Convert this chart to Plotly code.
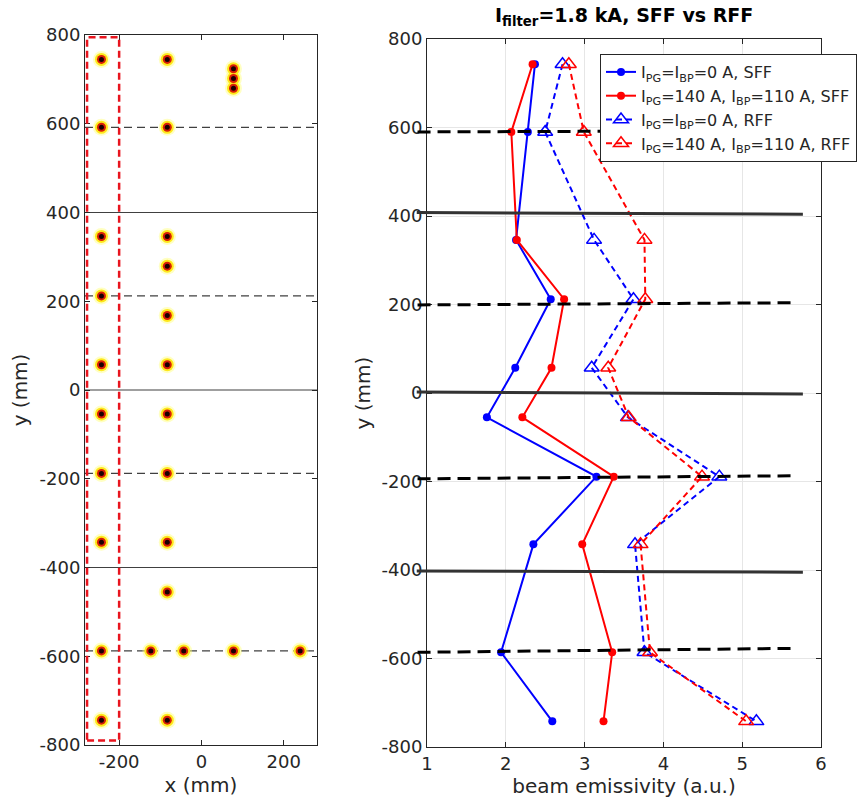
import plotly.graph_objects as go

# ---------------- data ----------------
# left panel: lines of sight positions (mm)
los_x = [-243, -83, 78, 78, 78,
         -243, -83,
         -243, -83, -83, -243, -83,
         -243, -83,
         -243, -83, -243, -83, -243, -83, -83,
         -243, -123, -43, 78, 240,
         -243, -83]
los_y = [745, 745, 724, 702, 680,
         592, 592,
         346, 346, 279, 212, 168,
         57, 57,
         -54, -54, -188, -188, -343, -343, -455,
         -588, -588, -588, -588, -588,
         -744, -744]
left_solid_y = [400, 0, -400]
left_dash_y = [592, 212, -188, -588]
box_x = [-278, -200]
box_y = [-790, 795]

# right panel: emissivity profiles
y_pos = [743, 590, 346, 212, 57, -55, -189, -342, -586, -742]
blue_sff = [2.37, 2.28, 2.13, 2.57, 2.12, 1.76, 3.15, 2.35, 1.94, 2.59]
red_sff = [2.34, 2.07, 2.14, 2.74, 2.58, 2.21, 3.37, 2.97, 3.35, 3.24]
blue_rff = [2.72, 2.50, 3.12, 3.62, 3.09, 3.55, 4.71, 3.64, 3.76, 5.18]
red_rff = [2.80, 2.99, 3.76, 3.77, 3.30, 3.56, 4.49, 3.71, 3.83, 5.05]
names = ["I<sub>PG</sub>=I<sub>BP</sub>=0 A, SFF",
         "I<sub>PG</sub>=140 A, I<sub>BP</sub>=110 A, SFF",
         "I<sub>PG</sub>=I<sub>BP</sub>=0 A, RFF",
         "I<sub>PG</sub>=140 A, I<sub>BP</sub>=110 A, RFF"]
# separator lines on right panel (y at left end, y at right end)
right_solid = [(408, 404), (2, -2), (-402, -405)]
right_dash = [(590, 593), (199, 204), (-194, -187), (-586, -577)]

# tick labels
y_ticks = [-800, -600, -400, -200, 0, 200, 400, 600, 800]
y_ticktext = ["-800", "-600", "-400", "-200", "0", "200", "400", "600", "800"]
lx_ticks = [-200, 0, 200]
lx_ticktext = ["-200", "0", "200"]
rx_ticks = [1, 2, 3, 4, 5, 6]
rx_ticktext = ["1", "2", "3", "4", "5", "6"]

# ---------------- layout geometry ----------------
W, H = 861, 802
L_dom_x = [85 / W, 317 / W]
L_dom_y = [1 - 745 / H, 1 - 35 / H]
R_dom_x = [427 / W, 821 / W]
R_dom_y = [1 - 747 / H, 1 - 39 / H]
R_xrange = [1, 6]

def rx_to_paper(v):
    return R_dom_x[0] + (v - R_xrange[0]) / (R_xrange[1] - R_xrange[0]) * (R_dom_x[1] - R_dom_x[0])

FONT = "DejaVu Sans"
TXT = "#262626"
TICK_SIZE = 18
TITLE_SIZE = 20

fig = go.Figure()

# left panel dots: layered glow
fig.add_trace(go.Scatter(x=los_x, y=los_y, mode="markers", xaxis="x", yaxis="y",
                         marker=dict(size=17, color="rgba(255,255,120,0.45)", line_width=0),
                         showlegend=False, hoverinfo="skip"))
fig.add_trace(go.Scatter(x=los_x, y=los_y, mode="markers", xaxis="x", yaxis="y",
                         marker=dict(size=13, color="#ffe81a", line_width=0),
                         showlegend=False, hoverinfo="skip"))
fig.add_trace(go.Scatter(x=los_x, y=los_y, mode="markers", xaxis="x", yaxis="y",
                         marker=dict(size=9, color="#d81e05", line_width=0),
                         showlegend=False, hoverinfo="skip"))
fig.add_trace(go.Scatter(x=los_x, y=los_y, mode="markers", xaxis="x", yaxis="y",
                         marker=dict(size=5, color="#1a0000", line_width=0),
                         showlegend=False, hoverinfo="skip"))

# right panel series
fig.add_trace(go.Scatter(x=blue_sff, y=y_pos, mode="lines+markers", name=names[0],
                         xaxis="x2", yaxis="y2",
                         line=dict(color="#0000ff", width=2),
                         marker=dict(symbol="circle", size=8, color="#0000ff")))
fig.add_trace(go.Scatter(x=red_sff, y=y_pos, mode="lines+markers", name=names[1],
                         xaxis="x2", yaxis="y2",
                         line=dict(color="#ff0000", width=2),
                         marker=dict(symbol="circle", size=8, color="#ff0000")))
fig.add_trace(go.Scatter(x=blue_rff, y=y_pos, mode="lines+markers", name=names[2],
                         xaxis="x2", yaxis="y2",
                         line=dict(color="#0000ff", width=2, dash="6px,4px"),
                         marker=dict(symbol="triangle-up-open", size=13, color="#0000ff",
                                     line=dict(width=1.5, color="#0000ff"))))
fig.add_trace(go.Scatter(x=red_rff, y=y_pos, mode="lines+markers", name=names[3],
                         xaxis="x2", yaxis="y2",
                         line=dict(color="#ff0000", width=2, dash="6px,4px"),
                         marker=dict(symbol="triangle-up-open", size=13, color="#ff0000",
                                     line=dict(width=1.5, color="#ff0000"))))

shapes = []
# left panel separators
for yv in left_solid_y:
    shapes.append(dict(type="line", xref="x domain", yref="y", x0=0, x1=1, y0=yv, y1=yv,
                       line=dict(color="#404040", width=1.2), layer="below"))
for yv in left_dash_y:
    shapes.append(dict(type="line", xref="x domain", yref="y", x0=0, x1=1, y0=yv, y1=yv,
                       line=dict(color="#404040", width=1.2, dash="8px,5px"), layer="below"))
# red dashed box
shapes.append(dict(type="rect", xref="x", yref="y", x0=box_x[0], x1=box_x[1],
                   y0=box_y[0], y1=box_y[1],
                   line=dict(color="#e8141e", width=2.5, dash="7px,4px")))
# right panel separators (extend beyond the left axis)
for y0, y1 in right_solid:
    shapes.append(dict(type="line", xref="paper", yref="y2", x0=rx_to_paper(0.87), x1=rx_to_paper(5.77),
                       y0=y0, y1=y1, line=dict(color="#333333", width=3)))
for y0, y1 in right_dash:
    shapes.append(dict(type="line", xref="paper", yref="y2", x0=rx_to_paper(0.88), x1=rx_to_paper(5.68),
                       y0=y0, y1=y1, line=dict(color="#000000", width=3, dash="13px,7px")))

axis_common = dict(showline=True, linecolor="#262626", linewidth=1, mirror="ticks",
                   ticks="inside", ticklen=5, tickcolor="#262626", automargin=False,
                   tickfont=dict(family=FONT, size=TICK_SIZE, color=TXT), zeroline=False)

fig.update_layout(
    width=W, height=H,
    margin=dict(l=0, r=0, t=0, b=0, autoexpand=False),
    paper_bgcolor="white", plot_bgcolor="white",
    font=dict(family=FONT, color=TXT),
    shapes=shapes,
    xaxis=dict(domain=L_dom_x, range=[-283, 281], tickvals=lx_ticks, ticktext=lx_ticktext,
               showgrid=False, anchor="y",
               title=dict(text="x (mm)", font=dict(family=FONT, size=TITLE_SIZE, color=TXT), standoff=7),
               **axis_common),
    yaxis=dict(domain=L_dom_y, range=[-800, 800], tickvals=y_ticks, ticktext=y_ticktext,
               showgrid=False, anchor="x",
               title=dict(text="y (mm)", font=dict(family=FONT, size=TITLE_SIZE, color=TXT), standoff=6),
               **axis_common),
    xaxis2=dict(domain=R_dom_x, range=R_xrange, tickvals=rx_ticks, ticktext=rx_ticktext,
                showgrid=True, gridcolor="#e6e6e6", anchor="y2",
                title=dict(text="beam emissivity (a.u.)", font=dict(family=FONT, size=TITLE_SIZE, color=TXT), standoff=5),
                **axis_common),
    yaxis2=dict(domain=R_dom_y, range=[-800, 800], tickvals=y_ticks, ticktext=y_ticktext,
                showgrid=True, gridcolor="#e6e6e6", anchor="x2",
                title=dict(text="y (mm)", font=dict(family=FONT, size=TITLE_SIZE, color=TXT), standoff=5),
                **axis_common),
    legend=dict(x=600 / W, y=1 - 54 / H, xanchor="left", yanchor="top",
                bgcolor="white", bordercolor="#262626", borderwidth=1,
                font=dict(family=FONT, size=16, color=TXT), tracegroupgap=0, itemwidth=30),
    annotations=[dict(text="<b>I<sub>filter</sub>=1.8 kA, SFF vs RFF</b>", xref="paper", yref="paper",
                      x=(R_dom_x[0] + R_dom_x[1]) / 2, y=1 - 17 / H, xanchor="center", yanchor="middle",
                      showarrow=False, font=dict(family=FONT, size=19, color="#000000"))],
)

fig.write_html("out.html")
